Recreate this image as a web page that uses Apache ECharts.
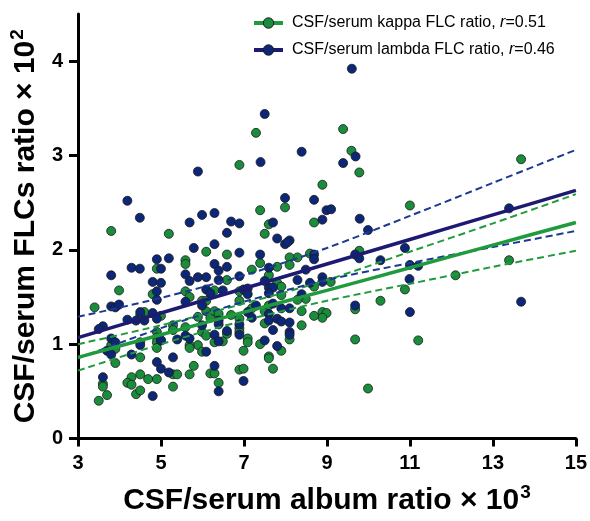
<!DOCTYPE html>
<html>
<head>
<meta charset="utf-8">
<script src="https://cdn.jsdelivr.net/npm/echarts@6/dist/echarts.min.js"></script>
<style>
html,body{margin:0;padding:0;background:#fff;}
#chart{width:590px;height:521px;}
</style>
</head>
<body>
<div id="chart"></div>
<script>
// ---- Data ----
const kappaX = [13.68,13.39,12.10,11.0,10.88,11.2,10.29,9.99,9.68,9.68,9.78,9.59,9.39,9.78,8.89,8.69,8.59,8.69,9.09,8.89,8.99,8.89,8.69,8.49,8.29,8.39,8.39,8.29,8.10,8.10,7.99,7.50,7.29,7.39,6.89,7.60,7.39,7.80,7.60,7.80,7.90,7.90,7.19,6.59,6.09,6.59,5.59,5.59,5.19,3.80,3.99,4.80,4.90,3.40,5.59,5.69,5.99,6.09,6.29,6.89,6.89,7.19,7.50,7.60,4.60,4.50,5.0,5.29,5.29,5.59,5.89,6.09,6.19,6.29,6.39,6.69,6.89,6.89,6.89,5.99,6.09,6.29,6.49,6.59,7.09,7.09,5.89,5.99,5.69,5.69,4.90,4.90,4.90,4.90,5.0,4.50,3.90,3.80,3.90,4.50,5.79,5.69,5.29,5.39,5.29,4.90,4.69,4.50,4.29,4.19,4.29,4.40,4.50,3.60,3.60,3.70,3.50,6.19,6.29,6.39,6.89,6.99,6.99,7.60,7.60,7.70,7.90,7.39,7.50,8.10];
const kappaY = [2.96,1.89,1.73,2.47,1.58,1.04,1.46,0.53,1.37,1.05,2.82,3.05,3.28,1.99,2.69,2.29,1.96,1.61,1.66,1.34,1.33,1.28,1.30,1.48,1.47,1.35,1.20,1.92,1.92,1.84,2.45,2.17,3.24,2.42,2.90,2.27,1.86,1.82,1.73,1.65,1.61,1.52,1.79,1.95,1.98,1.68,1.89,1.85,2.17,2.20,1.57,1.53,1.80,1.39,1.56,1.50,1.46,1.46,1.57,1.46,1.56,1.38,1.35,1.41,1.34,1.31,1.30,1.20,1.15,1.18,1.29,1.35,1.28,1.35,1.32,1.31,1.27,1.17,1.13,1.13,1.09,1.02,1.03,1.11,1.06,1.02,0.99,0.92,0.99,0.96,1.13,1.07,1.02,0.96,1.04,1.02,0.95,0.99,0.80,0.86,0.77,0.68,0.68,0.68,0.55,0.63,0.63,0.68,0.65,0.59,0.57,0.47,0.51,0.58,0.55,0.46,0.40,0.69,0.69,0.59,0.73,0.74,0.93,0.87,0.85,0.74,0.93,1.00,1.22,1.05];

const lambdaX = [9.60,7.50,7.40,8.39,9.39,9.69,5.89,4.19,4.49,5.99,6.29,5.69,6.69,6.89,7.70,7.99,8.69,8.99,9.10,8.89,9.79,9.99,6.59,5.79,6.29,6.89,7.80,7.99,8.10,8.05,7.39,8.69,8.69,9.68,9.78,10.88,10.29,11.0,11.2,10.99,13.39,13.68,11.0,9.68,5.19,4.90,4.29,4.49,5.0,3.80,4.80,5.0,4.90,4.90,3.80,3.90,3.99,4.50,4.19,4.40,4.80,4.90,3.60,3.50,4.60,3.80,3.90,3.70,3.80,4.50,5.0,4.29,4.90,5.0,5.19,5.29,3.60,4.80,5.39,5.59,5.69,5.59,5.89,6.09,6.09,6.19,6.29,6.39,6.39,6.59,6.49,5.99,5.99,6.39,6.39,6.29,5.59,5.69,6.09,6.29,6.39,6.39,6.59,6.89,6.99,7.09,7.09,6.89,6.89,7.09,7.19,7.29,6.99,7.50,7.60,7.60,7.70,7.60,7.50,7.70,7.60,7.60,7.80,7.90,7.90,7.70,7.80,8.10,8.10,8.10,8.10,8.29,8.39,8.49,8.59,8.89,8.89];
const lambdaY = [3.92,3.44,2.93,3.04,2.92,2.99,2.83,2.52,2.34,2.37,2.39,2.29,2.30,2.28,2.29,2.55,2.53,2.42,2.43,2.32,2.33,2.21,2.18,2.02,2.06,1.97,2.12,2.06,2.10,2.08,1.95,1.95,1.90,1.95,1.91,2.02,1.89,1.84,1.83,1.69,2.44,1.45,1.34,1.41,1.91,1.90,1.81,1.80,1.80,1.73,1.66,1.65,1.56,1.47,1.40,1.39,1.42,1.34,1.26,1.25,1.33,1.27,1.19,1.16,1.25,1.06,1.02,0.93,0.89,0.99,1.04,0.89,0.81,0.74,0.70,0.86,0.65,0.45,1.05,1.74,1.67,1.45,1.71,1.71,1.58,1.54,1.85,1.78,1.68,1.82,1.57,1.41,1.20,1.25,1.21,1.10,1.09,1.06,0.92,0.77,0.50,1.03,1.14,1.72,1.58,1.59,1.53,1.21,1.10,1.34,1.28,1.41,0.61,1.04,1.81,1.60,1.60,1.54,1.67,1.43,1.32,1.25,1.27,1.24,1.38,1.15,0.98,1.38,1.23,1.13,1.10,1.68,1.53,1.79,1.65,1.71,1.66];

// regression lines and 95% bands, read at these x positions
const fitX = [3,5,7,9,11,13,15];
const kappaFit   = [0.86,1.10,1.34,1.57,1.81,2.05,2.29];
const kappaUpper = [1.00,1.20,1.43,1.68,1.98,2.28,2.59];
const kappaLower = [0.72,1.00,1.25,1.46,1.64,1.82,1.99];
const lambdaFit   = [1.07,1.33,1.59,1.85,2.11,2.37,2.63];
const lambdaUpper = [1.29,1.49,1.73,2.02,2.36,2.71,3.06];
const lambdaLower = [0.85,1.17,1.45,1.68,1.86,2.03,2.20];

const xTicks = [3,5,7,9,11,13,15];
const yTicks = [0,1,2,3,4];

const kappaName = 'CSF/serum kappa FLC ratio, r=0.51';
const lambdaName = 'CSF/serum lambda FLC ratio, r=0.46';

// ---- Build ----
const zip = (xs, ys) => xs.map((x, i) => [x, ys[i]]);
const FONT = '"Liberation Sans", Arial, sans-serif';
const GREEN = '#1a8d3c';
const NAVY = '#0c2778';
const GREEN_LINE = '#1f9b3d';
const NAVY_LINE = '#1d1a72';
const NAVY_DASH = '#1c3a92';

const chart = echarts.init(document.getElementById('chart'), null, {renderer: 'canvas'});

function lineSeries(name, data, color, width, dashed, z) {
  return {
    type: 'line', name: name, data: data, smooth: 0.3,
    showSymbol: false, symbol: 'none', silent: true, z: z,
    lineStyle: {color: color, width: width, type: dashed ? [7, 4] : 'solid'},
    animation: false
  };
}

const option = {
  animation: false,
  grid: {left: 78, right: 13.5, top: 14, bottom: 81, containLabel: false},
  legend: {
    orient: 'vertical', left: 247, top: 10, itemWidth: 29, itemHeight: 13, itemGap: 11,
    data: [kappaName, lambdaName],
    lineStyle: {width: 4, type: 'solid'},
    itemStyle: {borderColor: '#1b1b1b', borderWidth: 1},
    textStyle: {fontFamily: FONT, fontSize: 16, color: '#000', padding: [0,0,0,4],
      rich: {a: {fontFamily: FONT, fontSize: 16, color: '#000'},
             i: {fontFamily: FONT, fontSize: 16, color: '#000', fontStyle: 'italic'}}},
    formatter: function (n) {
      const m = n.match(/^(.*, )r(=.*)$/);
      return '{a|' + m[1] + '}{i|r}{a|' + m[2] + '}';
    }
  },
  xAxis: {
    type: 'value', min: 3, max: 15,
    name: '{a|CSF/serum album ratio × 10}{b|3}',
    nameLocation: 'middle', nameGap: 45,
    nameTextStyle: {rich: {
      a: {fontFamily: FONT, fontSize: 30, fontWeight: 'bold', color: '#000'},
      b: {fontFamily: FONT, fontSize: 19, fontWeight: 'bold', color: '#000', verticalAlign: 'top', padding: [0,0,16,1]}
    }},
    axisLine: {show: true, onZero: false, lineStyle: {color: '#000', width: 3}},
    axisTick: {show: true, length: 8, lineStyle: {color: '#000', width: 3}, customValues: xTicks},
    axisLabel: {fontFamily: FONT, fontSize: 20, fontWeight: 'bold', color: '#000', margin: 15, customValues: xTicks},
    splitLine: {show: false}
  },
  yAxis: {
    type: 'value', min: 0, max: 4.5,
    name: '{a|CSF/serum FLCs ratio × 10}{b|2}',
    nameLocation: 'middle', nameGap: 34, nameRotate: 90,
    nameTextStyle: {rich: {
      a: {fontFamily: FONT, fontSize: 30, fontWeight: 'bold', color: '#000'},
      b: {fontFamily: FONT, fontSize: 19, fontWeight: 'bold', color: '#000', verticalAlign: 'top', padding: [0,0,16,1]}
    }},
    axisLine: {show: true, onZero: false, lineStyle: {color: '#000', width: 3}},
    axisTick: {show: true, length: 9, lineStyle: {color: '#000', width: 3}, customValues: yTicks},
    axisLabel: {fontFamily: FONT, fontSize: 20, fontWeight: 'bold', color: '#000', margin: 15, customValues: yTicks},
    splitLine: {show: false}
  },
  series: [
    {type: 'scatter', name: 'kappaPts', data: zip(kappaX, kappaY), symbolSize: 9, z: 2, silent: true,
     itemStyle: {color: GREEN, borderColor: '#1b1b1b', borderWidth: 0.8, opacity: 1}},
    {type: 'scatter', name: 'lambdaPts', data: zip(lambdaX, lambdaY), symbolSize: 9, z: 3, silent: true,
     itemStyle: {color: NAVY, borderColor: '#1b1b1b', borderWidth: 0.8, opacity: 1}},
    lineSeries('kU', zip(fitX, kappaUpper), GREEN_LINE, 2, true, 4),
    lineSeries('kL', zip(fitX, kappaLower), GREEN_LINE, 2, true, 4),
    lineSeries('lU', zip(fitX, lambdaUpper), NAVY_DASH, 2, true, 4),
    lineSeries('lL', zip(fitX, lambdaLower), NAVY_DASH, 2, true, 4),
    Object.assign(lineSeries(kappaName, zip(fitX, kappaFit), GREEN_LINE, 3.5, false, 5),
      {symbol: 'circle', symbolSize: 8, itemStyle: {color: GREEN, borderColor: '#1b1b1b', borderWidth: 1}}),
    Object.assign(lineSeries(lambdaName, zip(fitX, lambdaFit), NAVY_LINE, 3.5, false, 5),
      {symbol: 'circle', symbolSize: 8, itemStyle: {color: NAVY, borderColor: '#1b1b1b', borderWidth: 1}})
  ]
};
chart.setOption(option);
</script>
</body>
</html>
